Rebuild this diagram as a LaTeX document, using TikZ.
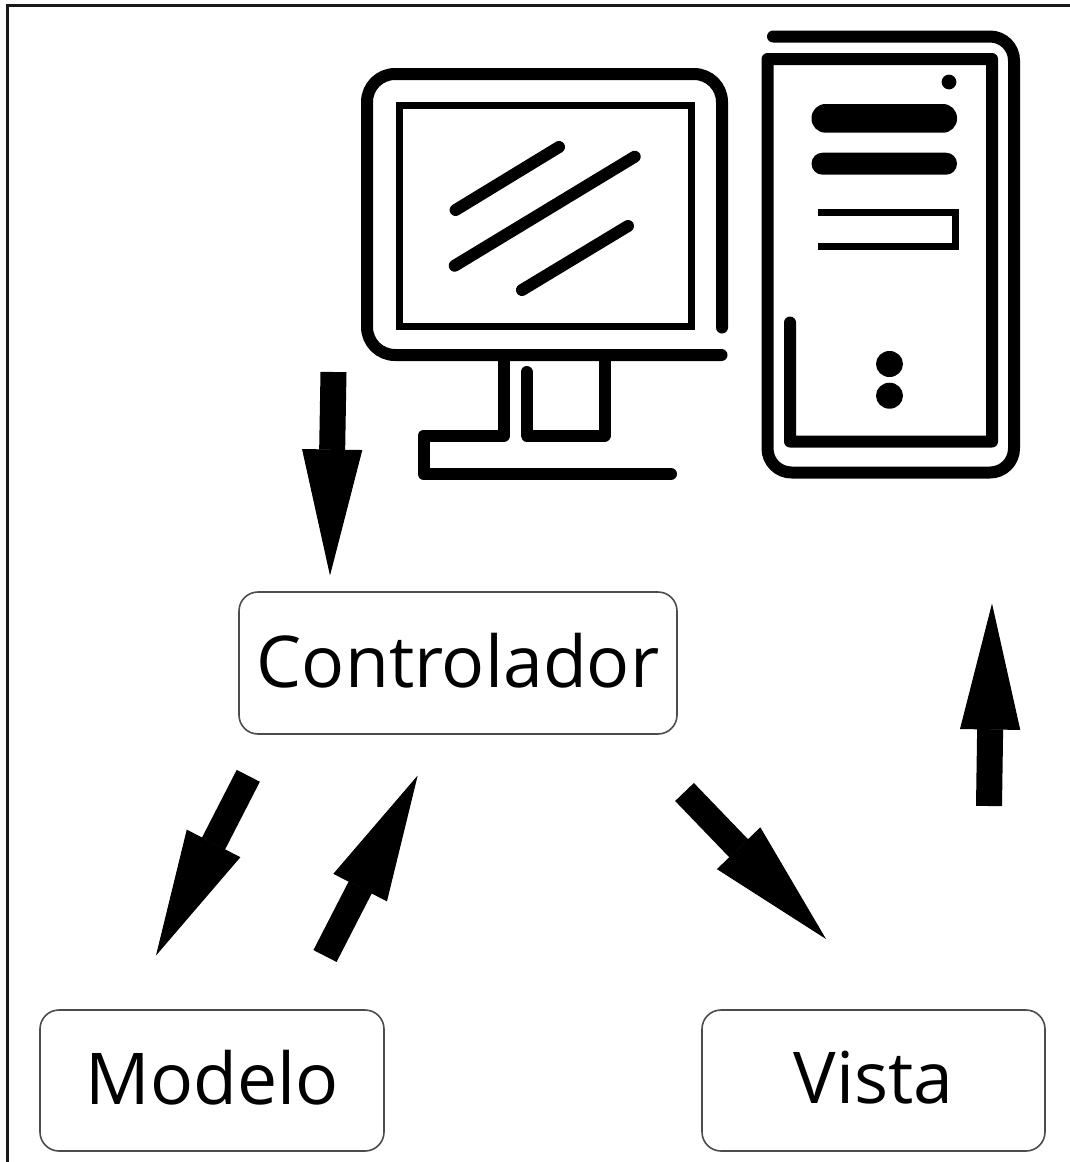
\documentclass[tikz,border=0pt]{standalone}
\usepackage{fontspec}
\setmainfont{Open Sans}
\usetikzlibrary{arrows.meta}
\tikzset{
  icon/.style={draw=black,line width=12pt,line cap=round,line join=round},
  thin icon/.style={draw=black,line width=7pt,line cap=butt,line join=miter},
  sheen/.style={draw=black,line width=12pt,line cap=round},
  mvcbox/.style={draw=black!70,line width=1.6pt,rounded corners=19pt,fill=white,inner sep=0pt,font=\fontsize{71.5pt}{72pt}\selectfont},
  bigarrow/.style={draw=black,line width=26pt,-{Triangle[length=126pt,width=60pt,line width=1pt,fill=black,color=black]}},
}
\begin{document}
\begin{tikzpicture}[x=1pt,y=-1pt]
\useasboundingbox (0,0) rectangle (1070,1162);
\fill[white] (0,0) rectangle (1070,1162);
\draw[line width=3pt,black!90] (7,1162) -- (7,5.5) -- (1070,5.5);
% monitor
\draw[icon] (722,327.5) -- (722,102) arc[start angle=0,end angle=-90,radius=28] -- (395,74) arc[start angle=270,end angle=180,radius=28] -- (367,327) arc[start angle=180,end angle=90,radius=28] -- (721.5,355);
\draw[thin icon] (399.5,105) rectangle (691,326.5);
\draw[sheen] (455.6,210) -- (559,147);
\draw[sheen] (454.7,265.7) -- (634.7,156.7);
\draw[sheen] (522,290) -- (628,226);
\draw[icon] (504,355) -- (504,435.5) -- (423.5,435.5) -- (423.5,474) -- (671,474);
\draw[icon] (604.5,355) -- (604.5,435.5) -- (526.5,435.5) -- (526.5,372);
% tower
\draw[icon] (773,36.5) -- (990,36.5) arc[start angle=-90,end angle=0,radius=24] -- (1014,448.5) arc[start angle=0,end angle=90,radius=24] -- (791.5,472.5) arc[start angle=90,end angle=180,radius=24] -- (767.5,59) -- (992,59) -- (992,441.5) -- (790,441.5) -- (790,322.5);
\fill (949,82) circle[radius=7.4];
\fill[rounded corners=14pt] (811.5,104) rectangle (957,132.7);
\fill[rounded corners=11pt] (811.5,152.7) rectangle (957,174.7);
\draw[thin icon] (818,212.5) -- (955,212.5) -- (955,246) -- (818,246);
\fill (889.5,364) ellipse[x radius=13.5,y radius=13];
\fill (889.5,395.7) ellipse[x radius=13.5,y radius=13];
% boxes
\node[mvcbox,minimum width=438pt,minimum height=142pt] (ctrl) at (458,663) {\raisebox{6pt}{Controlador}};
\node[mvcbox,minimum width=344pt,minimum height=141pt] (modelo) at (212,1080.5) {\raisebox{6pt}{Modelo}};
\node[mvcbox,minimum width=343pt,minimum height=141pt] (vista) at (873.5,1080.5) {\raisebox{6pt}{Vista}};
% arrows
\coordinate (pcout) at (333.5,372);
\coordinate (ctrlin) at (330,575.5);
\coordinate (ctrlout) at (248.3,775.8);
\coordinate (modin) at (156,955.5);
\coordinate (modout) at (325,956);
\coordinate (ctrlback) at (417.7,775.5);
\coordinate (ctrlright) at (684.5,792);
\coordinate (vistain) at (826,939);
\coordinate (vistaout) at (989,806);
\coordinate (pcin) at (992,603.5);
\draw[bigarrow] (pcout) -- (ctrlin);
\draw[bigarrow] (ctrlout) -- (modin);
\draw[bigarrow] (modout) -- (ctrlback);
\draw[bigarrow] (ctrlright) -- (vistain);
\draw[bigarrow] (vistaout) -- (pcin);
\end{tikzpicture}
\end{document}
